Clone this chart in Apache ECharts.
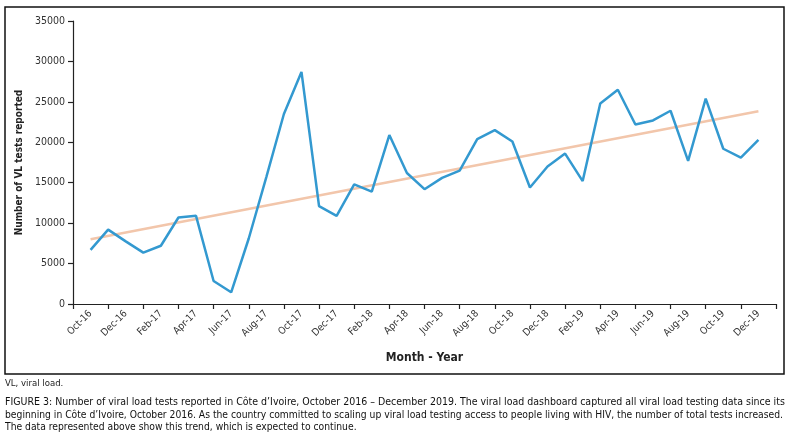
<!DOCTYPE html>
<html>
<head>
<meta charset="utf-8">
<script src="https://cdn.jsdelivr.net/npm/echarts@6/dist/echarts.min.js"></script>
<style>
html,body{margin:0;padding:0;background:#fff;}
#c{width:798px;height:442px;}
</style>
</head>
<body>
<div id="c"></div>
<script>
var months = ['Oct-16','Nov-16','Dec-16',
  'Jan-17','Feb-17','Mar-17','Apr-17','May-17','Jun-17','Jul-17','Aug-17','Sep-17','Oct-17','Nov-17','Dec-17',
  'Jan-18','Feb-18','Mar-18','Apr-18','May-18','Jun-18','Jul-18','Aug-18','Sep-18','Oct-18','Nov-18','Dec-18',
  'Jan-19','Feb-19','Mar-19','Apr-19','May-19','Jun-19','Jul-19','Aug-19','Sep-19','Oct-19','Nov-19','Dec-19'];
var vlTests = [6700, 9200, 7750,
  6350, 7200, 10700, 10900, 2850, 1450, 8100, 15700, 23500, 28700, 12100, 10900,
  14800, 13900, 20900, 16200, 14200, 15600, 16500, 20400, 21500, 20100, 14400, 17000,
  18600, 15200, 24800, 26500, 22200, 22700, 23900, 17700, 25400, 19200, 18100, 20300];
var trendStart = 8000, trendEnd = 23850;
var yTicks = [0, 35000, 5000]; // min, max, interval

var axisCats = [''].concat(months, ['']);
var lineData = [null].concat(vlTests, [null]);
var trendData = [[months[0], trendStart], [months[months.length - 1], trendEnd]];

var FONT = '"Liberation Sans Narrow","DejaVu Sans Condensed",sans-serif';
var chart = echarts.init(document.getElementById('c'), null, {renderer: 'canvas'});
chart.setOption({
  animation: false,
  backgroundColor: '#fff',
  grid: {left: 73, right: 22, top: 21, bottom: 138, containLabel: false},
  xAxis: {
    type: 'category',
    data: axisCats,
    boundaryGap: false,
    name: 'Month - Year',
    nameLocation: 'middle',
    nameGap: 48,
    nameTextStyle: {fontFamily: FONT, fontWeight: 'bold', fontSize: 12, color: '#222'},
    axisLine: {lineStyle: {color: '#222', width: 1.2}},
    axisTick: {show: true, length: 5, interval: function (i) { return i % 2 === 0; }, lineStyle: {color: '#222', width: 1.2}},
    axisLabel: {interval: function (i) { return i % 2 === 1; }, rotate: 45, margin: 8, fontFamily: FONT, fontSize: 10, color: '#333'},
    splitLine: {show: false}
  },
  yAxis: {
    type: 'value',
    min: yTicks[0], max: yTicks[1], interval: yTicks[2],
    name: 'Number of VL tests reported',
    nameLocation: 'middle',
    nameGap: 48,
    nameRotate: 90,
    nameTextStyle: {fontFamily: FONT, fontWeight: 'bold', fontSize: 10, color: '#222'},
    axisLine: {show: true, lineStyle: {color: '#222', width: 1.2}},
    axisTick: {show: true, length: 5, lineStyle: {color: '#222', width: 1.2}},
    axisLabel: {margin: 8, fontFamily: FONT, fontSize: 10.5, color: '#333', formatter: function (v) { return String(v); }},
    splitLine: {show: false}
  },
  series: [
    {
      name: 'Trend', type: 'line', data: trendData, symbol: 'none', silent: true,
      lineStyle: {color: '#F2C6AB', width: 2.5}, z: 1
    },
    {
      name: 'VL tests', type: 'line', data: lineData, symbol: 'none',
      lineStyle: {color: '#3399D0', width: 2.5}, z: 2
    }
  ],
  graphic: [
    {type: 'rect', shape: {x: 5, y: 7, width: 779, height: 367}, style: {fill: 'none', stroke: '#111', lineWidth: 1.5}, silent: true},
    {type: 'text', left: 5, top: 379, style: {text: 'VL, viral load.', font: '9.5px ' + FONT, fill: '#222'}},
    {type: 'text', left: 5, top: 397, style: {text: 'FIGURE 3: Number of viral load tests reported in Côte d’Ivoire, October 2016 – December 2019. The viral load dashboard captured all viral load testing data since its', font: '10.5px ' + FONT, fill: '#111'}},
    {type: 'text', left: 5, top: 410, style: {text: 'beginning in Côte d’Ivoire, October 2016. As the country committed to scaling up viral load testing access to people living with HIV, the number of total tests increased.', font: '10.25px ' + FONT, fill: '#111'}},
    {type: 'text', left: 5, top: 422, style: {text: 'The data represented above show this trend, which is expected to continue.', font: '10.25px ' + FONT, fill: '#111'}}
  ]
});
</script>
</body>
</html>
